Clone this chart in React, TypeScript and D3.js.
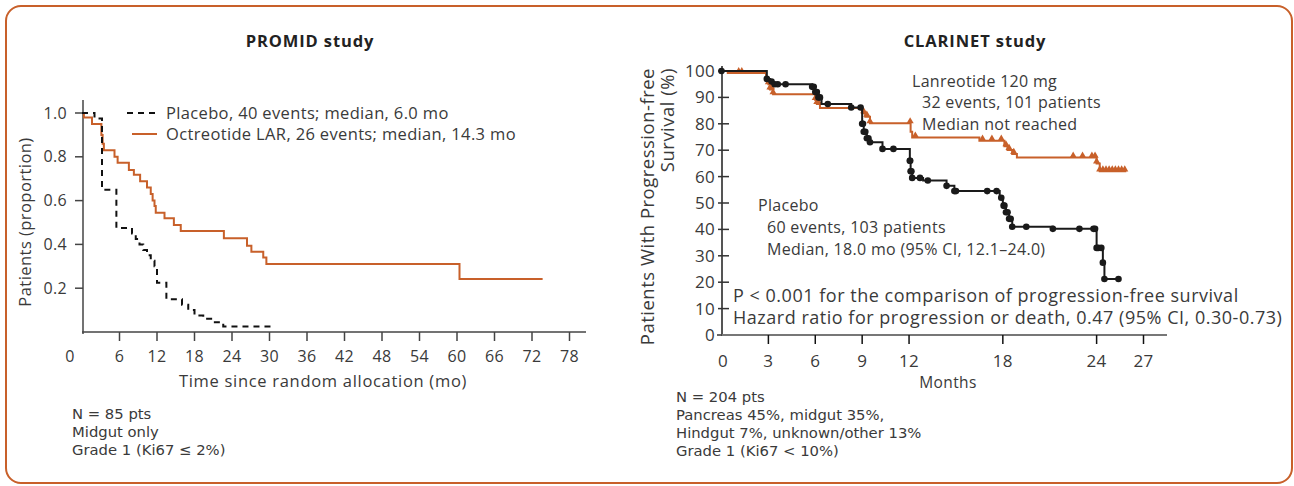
import { useEffect, useRef } from "react";
import * as d3 from "d3";

// PROMID (proportion) - step points, time in months
const promidPlaceboT = [0, 2.0, 3.2, 5.5, 8.0, 8.6, 9.2, 9.8, 10.4, 11.0, 11.6, 12.0, 13.5, 16.0, 17.0, 18.0, 19.4, 21.0, 22.6];
const promidPlaceboS = [1.0, 0.975, 0.65, 0.475, 0.45, 0.425, 0.4, 0.375, 0.35, 0.325, 0.3, 0.225, 0.15, 0.125, 0.1, 0.075, 0.06, 0.045, 0.025];
const promidPlaceboEnd = 30.2;

const promidOctT = [0, 0.3, 1.6, 3.1, 3.3, 3.5, 5.2, 5.7, 7.5, 8.3, 9.3, 10.4, 11.0, 11.3, 11.6, 11.8, 13.2, 14.7, 15.8, 22.7, 26.4, 27.1, 29.0, 29.5, 60.4];
const promidOctS = [1.0, 0.98, 0.95, 0.9, 0.86, 0.83, 0.8, 0.773, 0.74, 0.718, 0.688, 0.66, 0.63, 0.6, 0.575, 0.545, 0.519, 0.489, 0.461, 0.428, 0.394, 0.367, 0.34, 0.31, 0.242];
const promidOctEnd = 73.7;

const promidXTicks = [0, 6, 12, 18, 24, 30, 36, 42, 48, 54, 60, 66, 72, 78];
const promidYTicks = [0.2, 0.4, 0.6, 0.8, 1.0];

// CLARINET (%) - step points
const clarPlaceboT = [0, 2.9, 3.1, 3.3, 5.8, 6.0, 6.2, 6.4, 8.3, 9.0, 9.1, 9.3, 9.5, 10.3, 12.05, 12.1, 12.2, 12.9, 14.4, 14.9, 17.8, 18.0, 18.2, 18.4, 18.6, 21.2, 24.0, 24.4, 24.5];
const clarPlaceboS = [100, 97, 96, 95, 94, 92, 90, 87.5, 86.2, 80, 77, 74.5, 73, 70.5, 66, 62, 59.5, 58.5, 56.5, 54.5, 52, 49, 46.5, 44, 41, 40.2, 33, 27.4, 21.2];
const clarPlaceboEnd = 25.4;
const clarPlaceboCens = [0, 2.9, 3.2, 3.4, 3.6, 4.1, 5.8, 5.9, 6.0, 6.1, 6.2, 6.3, 6.8, 8.3, 8.9, 9.0, 9.05, 9.1, 9.2, 9.3, 9.4, 9.5, 10.3, 11.0, 12.05, 12.07, 12.1, 12.15, 12.2, 12.7, 13.2, 14.4, 14.9, 15.0, 17.0, 17.6, 17.9, 18.05, 18.1, 18.2, 18.3, 18.4, 18.5, 18.6, 19.5, 21.2, 22.9, 23.8, 23.9, 24.0, 24.1, 24.3, 24.4, 24.5, 25.4];

const clarLanT = [0, 0.4, 2.85, 3.0, 3.1, 3.3, 6.0, 6.1, 6.3, 9.0, 9.2, 9.5, 12.1, 12.2, 16.5, 18.1, 18.3, 18.6, 18.9, 24.0, 24.2];
const clarLanS = [100, 99.2, 97, 95, 93, 91.2, 89, 87.5, 86, 84, 82.7, 80.2, 77, 74.8, 73.6, 71.5, 70.1, 68.6, 67.2, 65, 62];
const clarLanEnd = 25.9;
const clarLanCens = [1.1, 1.3, 3.0, 3.1, 3.2, 3.3, 6.0, 6.1, 6.2, 9.1, 9.3, 9.5, 12.07, 12.4, 16.7, 17.3, 17.9, 18.2, 18.4, 18.7, 22.5, 23.1, 23.7, 23.9, 24.0, 24.2, 24.4, 24.6, 24.8, 25.0, 25.2, 25.4, 25.6, 25.8];

const clarXTicks = [0, 3, 6, 9, 12, 18, 24, 27];
const clarYTicks = [0, 10, 20, 30, 40, 50, 60, 70, 80, 90, 100];

const promidNotes = ["N = 85 pts", "Midgut only", "Grade 1 (Ki67 \u2264 2%)"];
const clarNotes = ["N = 204 pts", "Pancreas 45%, midgut 35%,", "Hindgut 7%, unknown/other 13%", "Grade 1 (Ki67 < 10%)"];

const ORANGE = "#c8602a";
const TEXT = "#3a3a3a";
const FONT = "'Open Sans', sans-serif";
const NOTE_FONT = "'DejaVu Sans', sans-serif";

// build step points including an end point
function stepData(t: number[], s: number[], end: number) {
    const pts = t.map((v, i) => [v, s[i]]);
    pts.push([end, s[s.length - 1]]);
    return pts;
}

// value of the step function at time x
function valueAt(t: number[], s: number[], x: number) {
    const i = d3.bisectRight(t, x) - 1;
    return s[Math.max(0, i)];
}

// plain text helper
function addText(g, str, x, y, size, ls = 0, anchor = "start") {
    return g.append("text")
        .attr("x", x).attr("y", y)
        .attr("font-size", size)
        .attr("letter-spacing", ls)
        .attr("text-anchor", anchor)
        .attr("fill", TEXT)
        .text(str);
}

export default function App() {
    const svgRef = useRef(null);

    useEffect(() => {
        const svg = d3.select(svgRef.current);
        svg.selectAll("*").remove();
        svg.style("font-family", FONT);

        // frame
        svg.append("rect")
            .attr("x", 6).attr("y", 6)
            .attr("width", 1286).attr("height", 477)
            .attr("rx", 15)
            .attr("fill", "none")
            .attr("stroke", ORANGE)
            .attr("stroke-width", 2);

        // ---------------- PROMID ----------------
        const x1 = d3.scaleLinear().domain([0, 78]).range([82, 569.5]);
        const y1 = d3.scaleLinear().domain([0, 1]).range([332, 113]);

        const g1 = svg.append("g");

        addText(g1, "PROMID study", 310, 47, 16.5, 0.9, "middle")
            .attr("font-weight", "bold")
            .attr("fill", "#222");

        // axes
        g1.append("line")
            .attr("x1", 83).attr("x2", 83)
            .attr("y1", 100).attr("y2", 334)
            .attr("stroke", "#444").attr("stroke-width", 1.5);
        g1.append("line")
            .attr("x1", 82).attr("x2", 586)
            .attr("y1", 332).attr("y2", 332)
            .attr("stroke", "#444").attr("stroke-width", 1.5);

        promidYTicks.forEach(v => {
            g1.append("line")
                .attr("x1", 75).attr("x2", 83)
                .attr("y1", y1(v)).attr("y2", y1(v))
                .attr("stroke", "#444").attr("stroke-width", 1.5);
            addText(g1, v.toFixed(1), 67, y1(v), 16, 0.3, "end")
                .attr("dy", "0.35em");
        });

        promidXTicks.forEach(v => {
            if (v > 0) {
                g1.append("line")
                    .attr("x1", x1(v)).attr("x2", x1(v))
                    .attr("y1", 332).attr("y2", 341)
                    .attr("stroke", "#444").attr("stroke-width", 1.5);
            }
            addText(g1, String(v), v === 0 ? x1(v) - 12 : x1(v), 362, 16, 0.3, "middle");
        });

        addText(g1, "Time since random allocation (mo)", 323, 387, 16.5, 0.7, "middle");

        addText(g1, "Patients (proportion)", 0, 0, 16.5, 0.45, "middle")
            .attr("transform", "translate(31,222) rotate(-90)");

        const line1 = d3.line()
            .x(d => x1(d[0]))
            .y(d => y1(d[1]))
            .curve(d3.curveStepAfter);

        g1.append("path")
            .datum(stepData(promidOctT, promidOctS, promidOctEnd))
            .attr("fill", "none")
            .attr("stroke", ORANGE)
            .attr("stroke-width", 2)
            .attr("d", line1);

        g1.append("path")
            .datum(stepData(promidPlaceboT, promidPlaceboS, promidPlaceboEnd))
            .attr("fill", "none")
            .attr("stroke", "#111")
            .attr("stroke-width", 2)
            .attr("stroke-dasharray", "6,5")
            .attr("d", line1);

        // legend
        g1.append("line")
            .attr("x1", 127).attr("x2", 158)
            .attr("y1", 113).attr("y2", 113)
            .attr("stroke", "#111").attr("stroke-width", 2)
            .attr("stroke-dasharray", "6,5");
        g1.append("line")
            .attr("x1", 132).attr("x2", 157)
            .attr("y1", 134).attr("y2", 134)
            .attr("stroke", ORANGE).attr("stroke-width", 2);
        addText(g1, "Placebo, 40 events; median, 6.0 mo", 166, 118.5, 16.5, 0.35);
        addText(g1, "Octreotide LAR, 26 events; median, 14.3 mo", 166, 139.5, 16.5, 0.35);

        promidNotes.forEach((t, i) => {
            addText(g1, t, 72, 419 + i * 18, 14.8)
                .attr("font-family", NOTE_FONT);
        });

        // ---------------- CLARINET ----------------
        const x2 = d3.scaleLinear().domain([0, 27]).range([721.5, 1143.5]);
        const y2 = d3.scaleLinear().domain([0, 100]).range([335, 71]);

        const g2 = svg.append("g");

        addText(g2, "CLARINET study", 975, 47, 16.5, 0.9, "middle")
            .attr("font-weight", "bold")
            .attr("fill", "#222");

        g2.append("line")
            .attr("x1", 722).attr("x2", 722)
            .attr("y1", 66).attr("y2", 336)
            .attr("stroke", "#555").attr("stroke-width", 2);
        g2.append("line")
            .attr("x1", 721).attr("x2", 1167)
            .attr("y1", 335).attr("y2", 335)
            .attr("stroke", "#777").attr("stroke-width", 2);

        clarYTicks.forEach(v => {
            g2.append("line")
                .attr("x1", v === 0 ? 717 : 718).attr("x2", v === 0 ? 722 : 729)
                .attr("y1", y2(v)).attr("y2", y2(v))
                .attr("stroke", "#333").attr("stroke-width", 1.5);
            addText(g2, String(v), 715, y2(v), 17, 0.3, "end")
                .attr("dy", "0.35em");
        });

        clarXTicks.forEach(v => {
            if (v > 0) {
                g2.append("line")
                    .attr("x1", x2(v)).attr("x2", x2(v))
                    .attr("y1", 335).attr("y2", 344)
                    .attr("stroke", "#111").attr("stroke-width", 1.5);
            }
            addText(g2, String(v), v === 0 ? x2(v) + 1.5 : x2(v), 367, 17, 0.3, "middle");
        });

        addText(g2, "Months", 948, 388, 15.5, 0.4, "middle");

        addText(g2, "Patients With Progression-free", 0, 0, 18.5, 0.5, "end")
            .attr("transform", "translate(654,68) rotate(-90)");
        addText(g2, "Survival (%)", 0, 0, 18.5, 0.5, "end")
            .attr("transform", "translate(674,68) rotate(-90)");

        const line2 = d3.line()
            .x(d => x2(d[0]))
            .y(d => y2(d[1]))
            .curve(d3.curveStepAfter);

        g2.append("path")
            .datum(stepData(clarLanT, clarLanS, clarLanEnd))
            .attr("fill", "none")
            .attr("stroke", ORANGE)
            .attr("stroke-width", 2)
            .attr("d", line2);

        const tri = d3.symbol().type(d3.symbolTriangle).size(22);
        g2.selectAll(".tri")
            .data(clarLanCens)
            .join("path")
            .attr("d", tri)
            .attr("fill", ORANGE)
            .attr("transform", d => `translate(${x2(d)},${y2(valueAt(clarLanT, clarLanS, d)) - 2})`);

        g2.append("path")
            .datum(stepData(clarPlaceboT, clarPlaceboS, clarPlaceboEnd))
            .attr("fill", "none")
            .attr("stroke", "#1a1a1a")
            .attr("stroke-width", 2)
            .attr("d", line2);

        g2.selectAll(".dot")
            .data(clarPlaceboCens)
            .join("circle")
            .attr("cx", d => x2(d))
            .attr("cy", d => y2(valueAt(clarPlaceboT, clarPlaceboS, d)))
            .attr("r", 3.3)
            .attr("fill", "#1a1a1a");

        // annotations
        const ann = [
            ["Lanreotide 120 mg", 912, 87],
            ["32 events, 101 patients", 922, 108],
            ["Median not reached", 922, 130],
            ["Placebo", 758, 211],
            ["60 events, 103 patients", 767, 233],
            ["Median, 18.0 mo (95% CI, 12.1\u201324.0)", 767, 255],
        ];
        ann.forEach(([t, x, y]) => {
            addText(g2, t, x, y, 16, 0.3);
        });

        [
            "P < 0.001 for the comparison of progression-free survival",
            "Hazard ratio for progression or death, 0.47 (95% CI, 0.30-0.73)",
        ].forEach((t, i) => {
            addText(g2, t, 733, 302 + i * 22, 18, 0.52);
        });

        clarNotes.forEach((t, i) => {
            addText(g2, t, 676, 402 + i * 18, 14.8)
                .attr("font-family", NOTE_FONT);
        });
    }, []);

    return (
        <svg
            ref={svgRef}
            width={1294}
            height={486}
            style={{ position: "absolute", left: 0, top: 0, background: "#fff" }}
        />
    );
}
